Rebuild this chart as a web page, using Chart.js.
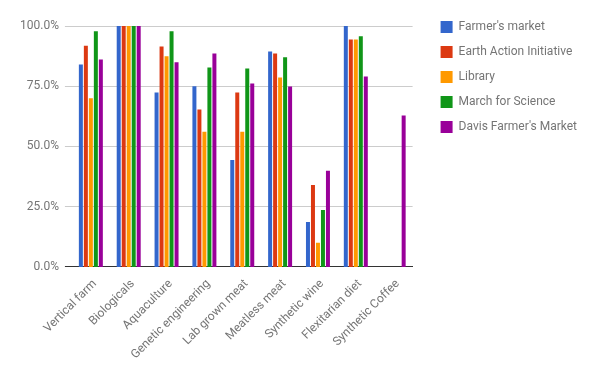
<!DOCTYPE html>
<html>
<head>
<meta charset="utf-8">
<script src="https://cdn.jsdelivr.net/npm/chart.js@4"></script>
<style>
  html, body { margin: 0; padding: 0; background: #fff; }
  #box { width: 600px; height: 371px; }
</style>
</head>
<body>
<div id="box"><canvas id="myChart"></canvas></div>
<script>
// categories (x axis)
const categories = ['Vertical farm', 'Biologicals', 'Aquaculture', 'Genetic engineering', 'Lab grown meat',
  'Meatless meat', 'Synthetic wine', 'Flexitarian diet', 'Synthetic Coffee'];

// series values, in percent
const farmersMarket = [84.0, 100, 72.4, 75.0, 44.4, 89.4, 18.6, 100, null];
const earthAction = [91.8, 100, 91.5, 65.3, 72.4, 88.6, 34.0, 94.4, null];
const library = [70.0, 100, 87.4, 56.1, 56.1, 78.6, 10.0, 94.4, null];
const marchForScience = [97.8, 100, 97.8, 82.8, 82.4, 87.0, 23.6, 95.7, null];
const davisMarket = [86.1, 100, 84.9, 88.6, 76.1, 74.9, 39.9, 79.0, 62.8];

// y axis ticks
const yTicks = [0, 25, 50, 75, 100];

const seriesNames = ['Farmer\'s market', 'Earth Action Initiative', 'Library', 'March for Science', 'Davis Farmer\'s Market'];
const seriesValues = [farmersMarket, earthAction, library, marchForScience, davisMarket];
const colors = ['#3366cc', '#dc3912', '#ff9900', '#109618', '#990099'];

const gray = '#757575';
const font = { family: 'Roboto', size: 12 };

function createChart() {
    const ctx = document.getElementById('myChart').getContext('2d');
    new Chart(ctx, {
        type: 'bar',
        data: {
            labels: categories,
            datasets: seriesValues.map((vals, i) => ({
                label: seriesNames[i],
                data: vals,
                backgroundColor: colors[i],
                borderWidth: 0,
                categoryPercentage: 0.66,
                barPercentage: 0.8
            }))
        },
        options: {
            responsive: true,
            maintainAspectRatio: false,
            animation: false,
            layout: { padding: { left: 14, top: 8, right: 13, bottom: 7 } },
            plugins: {
                tooltip: { enabled: false },
                legend: {
                    position: 'right',
                    align: 'start',
                    maxWidth: 220,
                    labels: {
                        boxWidth: 12,
                        boxHeight: 12,
                        padding: 13,
                        color: gray,
                        font: font
                    }
                }
            },
            scales: {
                x: {
                    grid: { display: false },
                    border: { display: true, color: '#333333', width: 1 },
                    ticks: { color: gray, font: font, minRotation: 45, maxRotation: 45, padding: 2, labelOffset: 4 }
                },
                // empty spacer axes, only to place the plot area like the original
                xTop: {
                    type: 'linear', axis: 'x', position: 'top',
                    grid: { display: false }, border: { display: false }, ticks: { display: false },
                    afterFit: s => { s.height = 18; }
                },
                yRight: {
                    type: 'linear', position: 'right',
                    grid: { display: false }, border: { display: false }, ticks: { display: false },
                    afterFit: s => { s.width = 15; }
                },
                y: {
                    min: 0,
                    max: 100,
                    afterBuildTicks: scale => { scale.ticks = yTicks.map(v => ({ value: v })); },
                    border: { display: false },
                    grid: {
                        color: c => c.tick && c.tick.value === 0 ? '#333333' : '#cccccc',
                        tickLength: 7,
                        lineWidth: 1
                    },
                    ticks: {
                        color: gray,
                        font: font,
                        padding: 6,
                        callback: v => v.toFixed(1) + '%'
                    }
                }
            }
        }
    });
}

// espera la font abans de mesurar els textos
document.fonts.load('12px Roboto').then(createChart, createChart);
</script>
</body>
</html>
